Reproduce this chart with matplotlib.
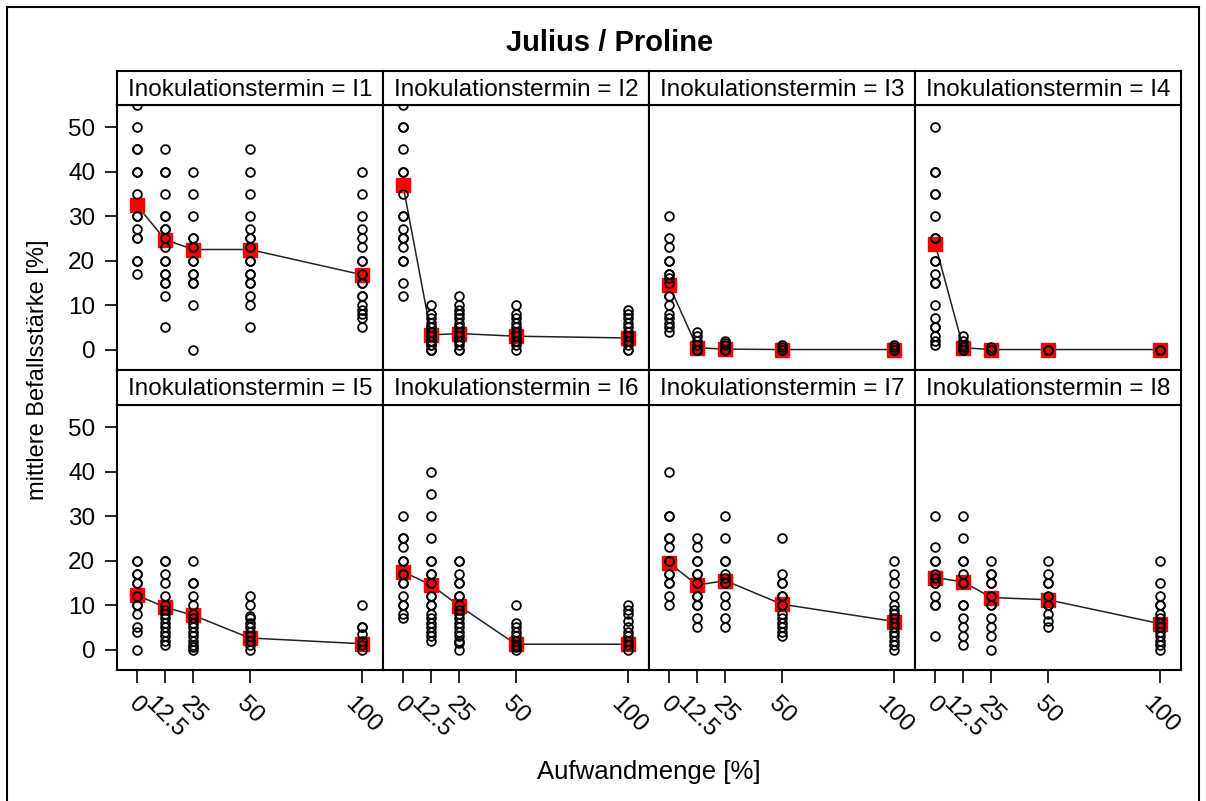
import matplotlib
matplotlib.use("Agg")
import matplotlib.pyplot as plt
from matplotlib.lines import Line2D

plt.rcParams["font.family"] = ["Liberation Sans", "DejaVu Sans"]

# Aufwandmenge [%] and panel labels
doses = [0, 12.5, 25, 50, 100]
dose_labels = ["0", "12.5", "25", "50", "100"]
termine = ["I1", "I2", "I3", "I4", "I5", "I6", "I7", "I8"]

i1_values = [
    [55, 50, 45, 45, 40, 40, 35, 30, 30, 27, 25, 25, 20, 20, 17],
    [45, 40, 40, 35, 30, 30, 27, 27, 25, 23, 20, 20, 17, 17, 15, 15, 12, 5],
    [40, 35, 30, 25, 25, 23, 20, 20, 17, 17, 15, 15, 10, 0],
    [45, 40, 35, 30, 27, 25, 25, 23, 20, 20, 17, 17, 15, 15, 12, 10, 5],
    [40, 35, 30, 27, 25, 23, 20, 20, 17, 15, 15, 12, 12, 10, 9, 8, 7, 5],
]
i2_values = [
    [55, 50, 50, 45, 40, 40, 35, 30, 30, 27, 25, 25, 23, 20, 20, 15, 12],
    [10, 8, 7, 6, 5, 5, 4, 3, 3, 2, 2, 1, 1, 0, 0, 0],
    [12, 10, 9, 8, 7, 6, 5, 5, 4, 3, 3, 2, 2, 1, 0, 0],
    [10, 8, 7, 6, 5, 4, 3, 3, 2, 2, 1, 0],
    [9, 8, 7, 6, 5, 4, 3, 3, 2, 2, 1, 0, 0],
]
i3_values = [
    [30, 25, 23, 20, 20, 17, 17, 16, 15, 12, 12, 10, 8, 7, 6, 5, 4],
    [4, 3, 2, 1, 0, 0, 0, 0],
    [2, 1.5, 1, 0, 0, 0, 0],
    [1, 0.5, 0, 0, 0],
    [1, 0.5, 0, 0, 0],
]
i4_values = [
    [50, 40, 40, 35, 35, 30, 25, 25, 20, 20, 17, 15, 15, 10, 7, 5, 5, 3, 2, 1],
    [3, 2, 1, 0.5, 0, 0, 0],
    [0.5, 0, 0, 0],
    [0, 0, 0],
    [0, 0, 0],
]
i5_values = [
    [20, 20, 17, 17, 15, 15, 12, 10, 10, 8, 5, 4, 0],
    [20, 20, 17, 15, 12, 10, 9, 8, 7, 6, 5, 4, 3, 2, 1],
    [20, 15, 15, 12, 10, 8, 7, 6, 5, 4, 3, 2, 1, 0.5, 0],
    [12, 10, 7.5, 7, 6, 5, 4, 3, 2, 1, 0],
    [10, 5, 5, 3.5, 2, 1, 0],
]
i6_values = [
    [30, 25, 25, 23, 20, 20, 17, 17, 15, 15, 12, 10, 10, 8, 7],
    [40, 35, 30, 25, 20, 20, 17, 17, 15, 12, 12, 10, 10, 8, 7, 6, 5, 4, 3, 2],
    [20, 20, 17, 15, 15, 12, 12, 10, 9, 8, 7, 6, 5, 4, 3, 2, 1.5, 0],
    [10, 6, 5, 4, 3, 2, 1, 0.5, 0],
    [10, 9, 8, 6.5, 5, 4, 3, 2, 1, 0],
]
i7_values = [
    [40, 30, 30, 25, 25, 23, 20, 20, 17, 17, 15, 15, 12, 10],
    [25, 23, 20, 20, 17, 17, 15, 12, 12, 10, 10, 7, 5],
    [30, 25, 20, 20, 17, 16, 15, 15, 12, 10, 7, 5],
    [25, 17, 15, 15, 12, 12, 10, 10, 8, 7, 6, 5, 4, 3],
    [20, 17, 15, 12, 10, 9, 8, 7, 6, 5, 4, 3, 2, 1, 0],
]
i8_values = [
    [30, 23, 20, 20, 17, 16, 15, 15, 12, 10, 10, 3],
    [30, 25, 20, 20, 17, 15, 15, 10, 10, 7, 5, 3, 1],
    [20, 17, 17, 15, 15, 12, 10, 10, 7, 5, 3, 0],
    [20, 17, 15, 15, 12, 10, 10, 8, 6.5, 5],
    [20, 15, 12, 10, 10, 8, 7, 6, 5, 4, 3, 2, 1, 0],
]

# mean per dose (red squares)
i1_means = [32.4, 24.7, 22.5, 22.5, 16.8]
i2_means = [36.9, 3.3, 3.6, 3.0, 2.6]
i3_means = [14.5, 0.4, 0.1, 0.0, 0.0]
i4_means = [23.8, 0.4, 0.0, 0.0, 0.0]
i5_means = [12.2, 9.5, 7.7, 2.6, 1.3]
i6_means = [17.5, 14.5, 9.8, 1.2, 1.2]
i7_means = [19.5, 14.5, 15.5, 10.2, 6.3]
i8_means = [16.2, 15.2, 11.7, 11.2, 5.8]

all_values = [i1_values, i2_values, i3_values, i4_values,
              i5_values, i6_values, i7_values, i8_values]
all_means = [i1_means, i2_means, i3_means, i4_means,
             i5_means, i6_means, i7_means, i8_means]

W, H = 1206, 801
fig = plt.figure(figsize=(W / 100, H / 100), dpi=100)


def px_axes(x0, y0, x1, y1):
    return fig.add_axes([x0 / W, 1 - y1 / H, (x1 - x0) / W, (y1 - y0) / H])


col_x = [117, 383, 649, 915, 1181]
rows = [(71, 105, 370), (370, 405, 670)]

for k in range(8):
    r, c = k // 4, k % 4
    s_top, p_top, p_bot = rows[r]

    ax = px_axes(col_x[c], p_top, col_x[c + 1], p_bot)
    ax.plot(doses, all_means[k], color="#222222", lw=1.1, zorder=2)
    ax.plot(doses, all_means[k], "s", color="red", ms=9.5, zorder=3)
    for d, vals in zip(doses, all_values[k]):
        ax.plot([d] * len(vals), vals, "o", mfc="none", mec="black",
                ms=6.3, mew=1.3, zorder=4)
    ax.set_xlim(-8.9, 109.1)
    ax.set_ylim(-4.6, 55)
    for sp in ax.spines.values():
        sp.set_linewidth(1.5)

    if c == 0:
        ax.set_yticks([0, 10, 20, 30, 40, 50])
        ax.tick_params(axis="y", length=8.6, width=1.2, pad=7, labelsize=17.5)
    else:
        ax.set_yticks([])
    if r == 1:
        ax.set_xticks(doses)
        ax.set_xticklabels(dose_labels, rotation=-45, ha="center", va="top")
        ax.tick_params(axis="x", length=9.5, width=1.2, pad=7, labelsize=17.5)
    else:
        ax.set_xticks([])

    sax = px_axes(col_x[c], s_top, col_x[c + 1], p_top)
    sax.set_xticks([])
    sax.set_yticks([])
    for sp in sax.spines.values():
        sp.set_linewidth(1.5)
    sax.text(0.5, 0.45, f"Inokulationstermin = {termine[k]}",
             ha="center", va="center", fontsize=17.5, transform=sax.transAxes)

fig.text(610 / W, 1 - 43 / H, "Julius / Proline", ha="center", va="center",
         fontsize=21, fontweight="bold")
fig.text(649 / W, 1 - 772 / H, "Aufwandmenge [%]", ha="center", va="center",
         fontsize=18.5)
fig.text(38 / W, 1 - 370 / H, "mittlere Befallsstärke [%]", ha="center",
         va="center", rotation=90, fontsize=17)

# frame around the whole figure
for xs, ys in [([7, 7], [7, 801]), ([7, 1199], [7, 7]), ([1199, 1199], [7, 801])]:
    fig.add_artist(Line2D([x / W for x in xs], [1 - y / H for y in ys],
                          color="black", lw=1.5))

fig.savefig("out.png", dpi=100)
